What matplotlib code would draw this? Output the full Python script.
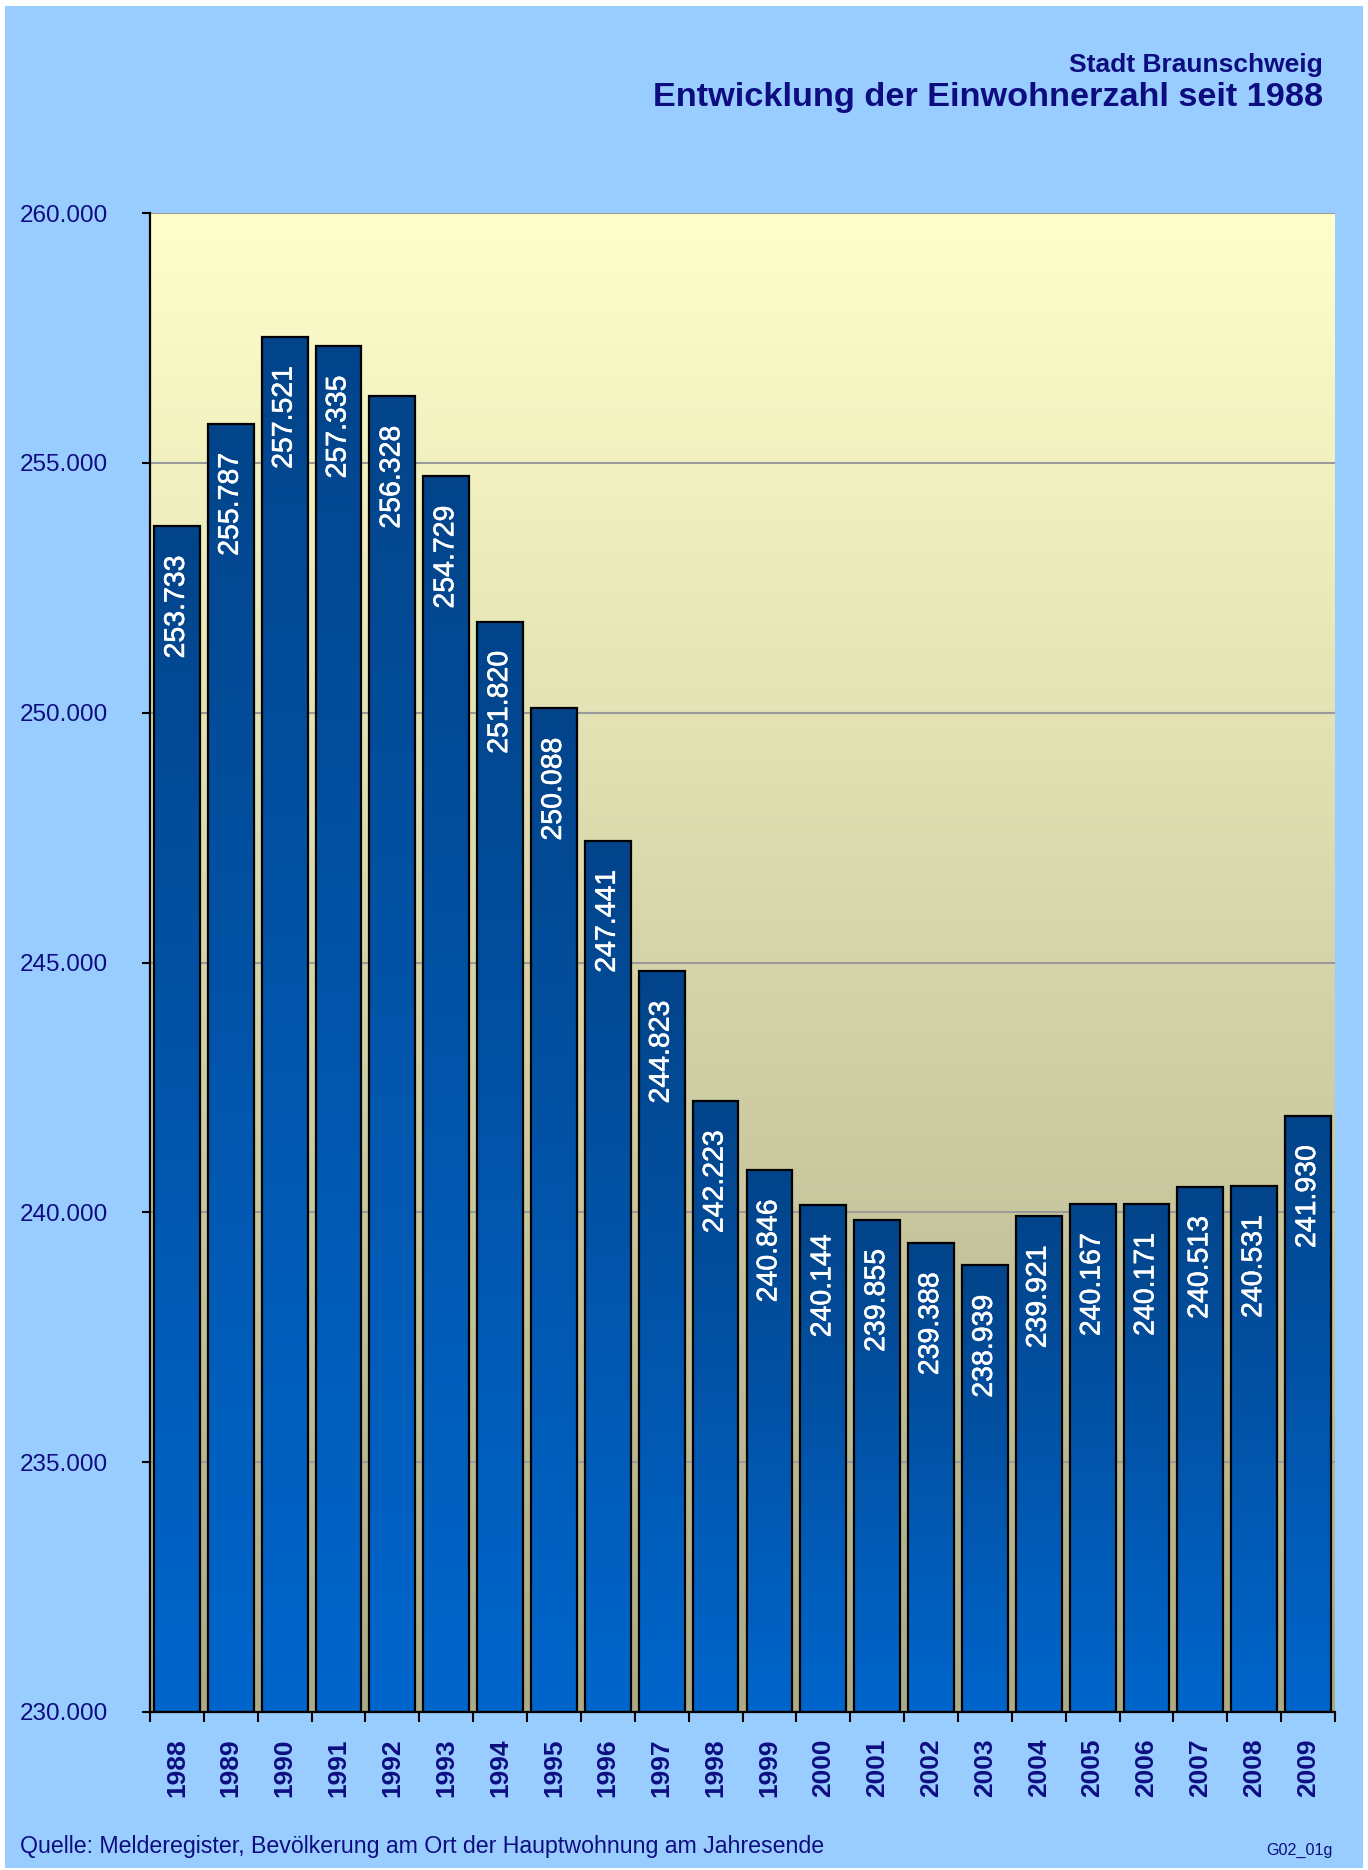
import numpy as np
import matplotlib
matplotlib.use('Agg')
import matplotlib.pyplot as plt
import matplotlib.patheffects as pe
from matplotlib.patches import Rectangle
from matplotlib.colors import LinearSegmentedColormap

plt.rcParams['font.family'] = ['Liberation Sans', 'DejaVu Sans']

# Einwohnerzahl am Jahresende
jahre = [str(j) for j in range(1988, 2010)]
einwohner = [253733, 255787, 257521, 257335, 256328, 254729, 251820, 250088,
             247441, 244823, 242223, 240846, 240144, 239855, 239388, 238939,
             239921, 240167, 240171, 240513, 240531, 241930]
y_ticks = [230000, 235000, 240000, 245000, 250000, 255000, 260000]

navy = '#0d0d80'

fig = plt.figure(figsize=(13.68, 18.70), dpi=100, facecolor='white')
# hellblauer Hintergrund mit schmalem weissen Rand
fig.patches.append(Rectangle((5 / 1368, 2 / 1870), 1358 / 1368, 1862 / 1870,
                             transform=fig.transFigure, facecolor='#99ccff',
                             edgecolor='none', zorder=-5))

ax = fig.add_axes([150 / 1368, 158 / 1870, 1185 / 1368, 1499 / 1870])
ax.set_zorder(2)
ax.set_xlim(-0.5, len(jahre) - 0.5)
ax.set_ylim(230000, 260000)

# Hintergrund-Verlauf der Zeichenflaeche
bg_cmap = LinearSegmentedColormap.from_list('bg', ['#acaa87', '#ffffcc'])
grad = np.linspace(0, 1, 256).reshape(-1, 1)
ax.imshow(grad, cmap=bg_cmap, origin='lower', aspect='auto',
          extent=[-0.5, len(jahre) - 0.5, 230000, 260000], zorder=0)

# Gitterlinien
for t in y_ticks[1:]:
    ax.axhline(t, color='#9a9a9a', lw=1.5, zorder=1)

# Balken mit Farbverlauf
bar_cmap = LinearSegmentedColormap.from_list('bar', ['#0066cc', '#03448a'])
x = np.arange(len(jahre))
bars = ax.bar(x, [v - 230000 for v in einwohner], bottom=230000, width=0.85,
              facecolor='none', edgecolor='black', linewidth=1.6, zorder=3)
for b in bars:
    x0, y0 = b.get_x(), b.get_y()
    w, h = b.get_width(), b.get_height()
    im = ax.imshow(grad, cmap=bar_cmap, origin='lower', aspect='auto',
                   extent=[x0, x0 + w, y0, y0 + h], zorder=2)
    im.set_clip_path(b)

# Werte in den Balken
for xi, v in zip(x, einwohner):
    ax.annotate(f'{v:,}'.replace(',', '.'), (xi, v), xytext=(0, -21),
                textcoords='offset points', rotation=90, ha='center', va='top',
                color='white', fontsize=20.5, zorder=4,
                path_effects=[pe.withStroke(linewidth=0.4, foreground='white')])

ax.set_xlim(-0.5, len(jahre) - 0.5)
ax.set_ylim(230000, 260000)

# Achsen
for s in ['top', 'right']:
    ax.spines[s].set_visible(False)
for s in ['left', 'bottom']:
    ax.spines[s].set_color('black')
    ax.spines[s].set_linewidth(1.6)
    ax.spines[s].set_zorder(5)

ax.set_yticks(y_ticks)
ax.set_yticklabels([f'{t:,}'.replace(',', '.') for t in y_ticks])
ax.tick_params(axis='y', length=6, width=1.5, direction='out', pad=24,
               labelsize=17.5, labelcolor=navy)
ax.set_xticks(x)
ax.set_xticklabels(jahre, rotation=90, fontweight='bold')
ax.tick_params(axis='x', length=0, pad=19, labelsize=19, labelcolor=navy)
ax.set_xticks(np.arange(-0.5, len(jahre)), minor=True)
ax.tick_params(axis='x', which='minor', length=7, width=1.5, direction='out')

# Titel
fig.text(1323 / 1368, 1 - 72 / 1870, 'Stadt Braunschweig', ha='right',
         va='baseline', fontsize=19, fontweight='bold', color=navy)
fig.text(1323 / 1368, 1 - 106 / 1870, 'Entwicklung der Einwohnerzahl seit 1988',
         ha='right', va='baseline', fontsize=24.7, fontweight='bold', color=navy)

# Quelle
fig.text(20 / 1368, 1 - 1853 / 1870,
         'Quelle: Melderegister, Bevölkerung am Ort der Hauptwohnung am Jahresende',
         ha='left', va='baseline', fontsize=16.7, color=navy)
fig.text(1333 / 1368, 1 - 1855 / 1870, 'G02_01g', ha='right', va='baseline',
         fontsize=11.6, color=navy)

fig.savefig('out.png', dpi=100, facecolor=fig.get_facecolor())
